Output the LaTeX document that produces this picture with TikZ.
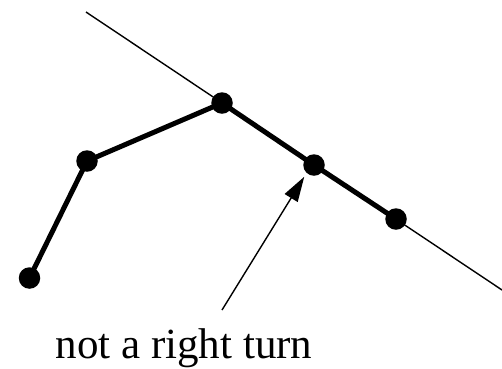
\documentclass[tikz,border=0pt]{standalone}
\usepackage{fontspec}
\setmainfont{Liberation Serif}
\usetikzlibrary{arrows.meta}

\begin{document}
\begin{tikzpicture}[x=1pt, y=-1pt]
    \tikzstyle{vertex} = [circle, fill=black, inner sep=0pt, minimum size=21.5pt]
    \tikzstyle{hull} = [line width=5pt]
    \tikzstyle{support} = [line width=1.4pt]
    \tikzstyle{arrow} = [line width=1.4pt, -{Triangle[length=25pt, width=15pt]}]

    \useasboundingbox (0,0) rectangle (502,368);

    \coordinate (top) at (86,12);
    \coordinate (bottom) at (502,290);
    \coordinate (tail) at (222,310);

    \node [vertex] (a) at (29.5,278) {};
    \node [vertex] (b) at (87,161) {};
    \node [vertex] (c) at (222,103) {};
    \node [vertex] (d) at (314,165) {};
    \node [vertex] (e) at (396,219) {};
    \node [font=\fontsize{43}{48}\selectfont, anchor=base] (label) at (184,358) {not a right turn};

    \draw [support] (top) -- (bottom);
    \draw [hull] (a.center) -- (b.center) -- (c.center) -- (d.center) -- (e.center);
    \draw [arrow] (tail) -- ([shift={(-2,4)}]d.south west);
\end{tikzpicture}
\end{document}
